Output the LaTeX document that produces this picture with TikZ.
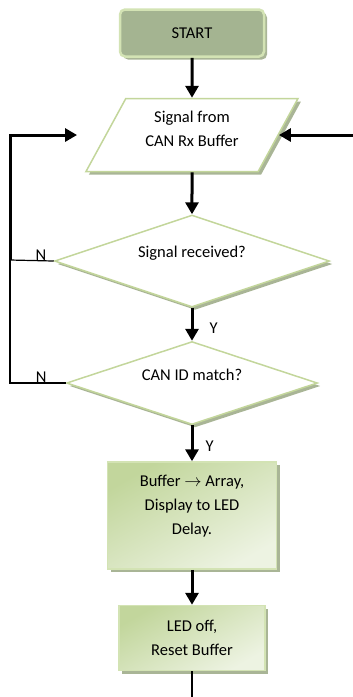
\documentclass[tikz,border=0pt]{standalone}
\usepackage{fontspec}
\setmainfont{Carlito}
\usetikzlibrary{shapes.geometric, arrows.meta, positioning, shadows}

\definecolor{edgegreen}{HTML}{C3D69B}
\definecolor{startfill}{HTML}{A4B491}
\definecolor{startedge}{HTML}{D3E3B4}
\definecolor{boxdark}{HTML}{C2D69C}
\definecolor{boxlight}{HTML}{EDF3E2}
\definecolor{shadegreen}{HTML}{A9B596}

\begin{document}
\begin{tikzpicture}[x=1pt, y=-1pt, node distance=40pt,
  font=\fontsize{16.5}{24}\selectfont,
  every node/.style={align=center, inner sep=0pt},
  softshadow/.style={drop shadow={shadow xshift=3pt, shadow yshift=-3pt, fill=shadegreen, opacity=1}},
  startbox/.style={rectangle, rounded corners=5pt, draw=startedge, line width=2.5pt, fill=startfill,
    minimum width=144pt, minimum height=47pt, softshadow},
  inbox/.style={trapezium, trapezium left angle=50, trapezium right angle=130, trapezium stretches body,
    minimum width=212pt, minimum height=73pt, draw=edgegreen, line width=1.5pt, fill=white, softshadow},
  decision/.style={diamond, aspect=3, draw=edgegreen, line width=1.5pt, fill=white, softshadow},
  stepbox/.style={rectangle, draw=startedge, line width=1.5pt, left color=boxdark, right color=boxlight,
    shading angle=30, softshadow},
  flow/.style={-{Triangle[length=12pt, width=13pt]}, line width=3pt},
  backline/.style={line width=1.2pt}
]
\useasboundingbox (0,0) rectangle (353,697);

\node[startbox] (start) at (192,33) {START};
\node[inbox, below=40pt of start, text depth=12pt] (signal) {Signal from\\CAN Rx Buffer};
\node[decision, below=42pt of signal, minimum width=275pt, minimum height=92pt, text depth=18pt] (recv) {Signal received?};
\node[decision, below=33pt of recv, minimum width=251pt, minimum height=83pt, text depth=16pt] (match) {CAN ID match?};
\node[stepbox, below=36pt of match, minimum width=169pt, minimum height=107pt, text depth=22pt] (show) {Buffer $\rightarrow$ Array,\\Display to LED\\Delay.};
\node[stepbox, below=35pt of show, minimum width=146pt, minimum height=65pt] (reset) {LED off,\\Reset Buffer};

\coordinate (loop) at (10,260);
\coordinate (feed) at (353,0 |- signal.east);
\coordinate (exit) at (reset.south |- 0,697);

\draw[flow] (start) -- (signal);
\draw[flow] (signal) -- (recv);
\draw[flow] (recv) -- node[right=16pt, pos=.62] {Y} (match);
\draw[flow] (match) -- node[right=12pt, pos=.57] {Y} (show);
\draw[flow] (show) -- (reset);
\draw[backline] (reset) -- (exit);

\draw[backline] (recv.west) -- node[above, pos=.29] {N} (loop);
\draw[backline] (match.west) -- node[above, pos=.44] {N} (match.west -| loop) -- (loop);
\draw[flow] (loop) |- ([xshift=-28pt]signal.west);
\draw[flow] (feed) -- (signal.east);
\end{tikzpicture}
\end{document}
